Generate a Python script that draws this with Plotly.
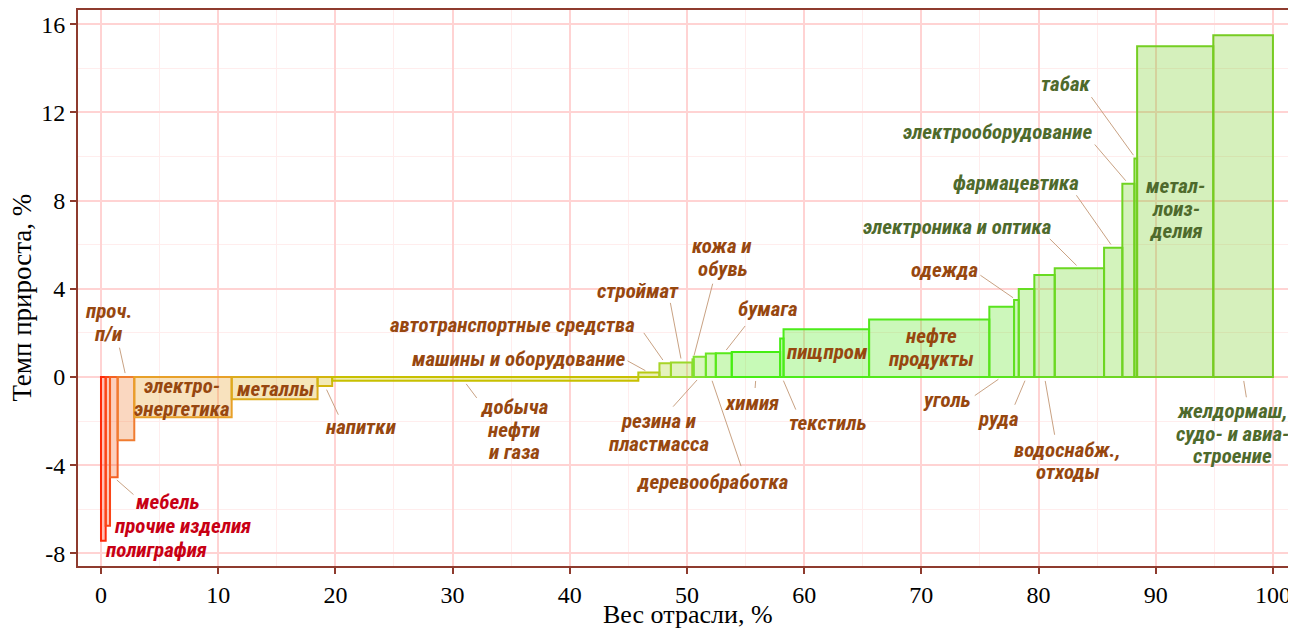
import subprocess
import numpy as np
import plotly.graph_objects as go
from plotly.colors import sample_colorscale

# ---------------- data ----------------
industries = ["полиграфия", "прочие изделия", "мебель", "проч. п/и", "электроэнергетика",
              "металлы", "напитки", "добыча нефти и газа", "машины и оборудование",
              "автотранспортные средства", "строймат", "кожа и обувь", "резина и пластмасса",
              "деревообработка", "бумага", "химия", "текстиль", "пищпром", "нефтепродукты",
              "уголь", "одежда", "руда", "водоснабж., отходы", "электроника и оптика",
              "фармацевтика", "электрооборудование", "табак", "металлоизделия",
              "желдормаш, судо- и авиастроение"]
weights = [0.40, 0.37, 0.65, 1.42, 8.31, 7.33, 1.25, 26.12, 1.80, 0.98, 1.84, 0.10, 1.04,
           0.85, 1.36, 4.13, 0.29, 7.30, 10.26, 2.11, 0.40, 1.33, 1.74, 4.21, 1.56, 1.03,
           0.23, 6.50, 5.09]
growth = [-7.42, -6.75, -4.55, -2.87, -1.83, -1.01, -0.41, -0.17, 0.20, 0.62, 0.66, 0.80,
          0.92, 1.07, 1.08, 1.13, 1.75, 2.17, 2.61, 3.19, 3.49, 3.99, 4.62, 4.93, 5.86,
          8.76, 9.91, 15.0, 15.5]

x_tickvals = [0, 10, 20, 30, 40, 50, 60, 70, 80, 90, 100]
x_ticktext = ["0", "10", "20", "30", "40", "50", "60", "70", "80", "90", "100"]
y_tickvals = [-8, -4, 0, 4, 8, 12, 16]
y_ticktext = ["-8", "-4", "0", "4", "8", "12", "16"]
x_title = "Вес отрасли, %"
y_title = "Темп прироста, %"

# ---------------- fonts ----------------
def available_families():
    try:
        out = subprocess.run(["fc-list", ":", "family"], capture_output=True,
                             text=True, timeout=20).stdout
    except Exception:
        return set()
    fams = set()
    for line in out.splitlines():
        for f in line.split(","):
            fams.add(f.strip())
    return fams


fams = available_families()
if "Liberation Sans Narrow" in fams:
    LABEL_FONT, LABEL_SIZE = "Liberation Sans Narrow", 21
elif "Roboto Condensed" in fams:
    LABEL_FONT, LABEL_SIZE = "Roboto Condensed", 21
else:
    LABEL_FONT, LABEL_SIZE = "Liberation Sans, Arial, sans-serif", 17

SERIF = "Liberation Serif, Times New Roman, serif"

# ---------------- styles ----------------
w = np.array(weights)
left = np.concatenate([[0], np.cumsum(w)[:-1]])
centers = left + w / 2
n = len(weights)

cscale = [[0.0, "#ff2a0a"], [3/28, "#f07c30"], [4/28, "#e8a028"], [7/28, "#c8c000"],
          [9/28, "#a8d428"], [12/28, "#80e030"], [15/28, "#44ee11"], [17/28, "#4cec1a"],
          [21/28, "#66dd22"], [1.0, "#77cc22"]]
line_cols = sample_colorscale(cscale, [i / (n - 1) for i in range(n)], colortype="rgb")


def with_alpha(c, a):
    return c.replace("rgb(", "rgba(").replace(")", f", {a})")


fill_cols = [with_alpha(c, 0.30) for c in line_cols]

RED, BROWN, GREEN = "#c80014", "#97470f", "#4e6a2c"
LEADER = "#c9a283"

fig = go.Figure()
fig.add_trace(go.Bar(
    x=centers, y=growth, width=w,
    marker=dict(color=fill_cols, line=dict(color=line_cols, width=2)),
    hovertext=industries, showlegend=False,
))

# label layout: (industry, lines, text centre x, y, leader tail x, y, anchor, frac, colour)
labels = [
    ("проч. п/и", ["проч.", "п/и"], 0.68, 2.47, 1.54, 1.42, "base", 0.5, BROWN),
    ("электроэнергетика", ["электро-", "энергетика"], 6.95, -0.92, None, None, None, 0.5, BROWN),
    ("металлы", ["металлы"], 14.85, -0.56, None, None, None, 0.5, BROWN),
    ("напитки", ["напитки"], 22.17, -2.28, 20.33, -1.80, "top", 0.5, BROWN),
    ("добыча нефти и газа", ["добыча", "нефти", "и газа"], 35.24, -2.39, 32.19, -1.04, "top", 0.43, BROWN),
    ("машины и оборудование", ["машины и оборудование"], 35.67, 0.82, 44.80, 0.77, "top", 0.5, BROWN),
    ("автотранспортные средства", ["автотранспортные средства"], 35.07, 2.36, 46.20, 2.09, "top", 0.5, BROWN),
    ("строймат", ["строймат"], 45.78, 3.91, 48.55, 3.45, "top", 0.5, BROWN),
    ("кожа и обувь", ["кожа и", "обувь"], 52.99, 5.41, 52.24, 4.32, "top", 0.5, BROWN),
    ("бумага", ["бумага"], 56.94, 3.08, 55.09, 2.40, "top", 0.5, BROWN),
    ("резина и пластмасса", ["резина и", "пластмасса"], 47.61, -2.52, 48.69, -1.42, "base", 0.5, BROWN),
    ("деревообработка", ["деревообработка"], 52.11, -4.77, 54.67, -4.13, "base", 0.5, BROWN),
    ("химия", ["химия"], 55.59, -1.19, 55.80, -0.59, "base", 0.5, BROWN),
    ("текстиль", ["текстиль"], 61.99, -2.07, 59.36, -1.57, "base", 0.5, BROWN),
    ("пищпром", ["пищпром"], 61.96, 1.12, None, None, None, 0.5, BROWN),
    ("нефтепродукты", ["нефте", "продукты"], 70.82, 1.33, None, None, None, 0.5, BROWN),
    ("уголь", ["уголь"], 72.18, -1.04, 74.43, -0.89, "base", 0.5, BROWN),
    ("одежда", ["одежда"], 71.97, 4.85, 74.91, 4.66, "top", 0.5, BROWN),
    ("руда", ["руда"], 76.62, -1.92, 77.90, -1.35, "base", 0.5, BROWN),
    ("водоснабж., отходы", ["водоснабж.,", "отходы"], 82.51, -3.81, 81.40, -2.71, "base", 0.5, BROWN),
    ("электроника и оптика", ["электроника и оптика"], 73.01, 6.79, 80.83, 6.33, "top", 0.5, GREEN),
    ("фармацевтика", ["фармацевтика"], 78.11, 8.79, 83.11, 8.33, "top", 0.5, GREEN),
    ("электрооборудование", ["электрооборудование"], 76.49, 11.11, 84.67, 10.62, "top", 0.5, GREEN),
    ("табак", ["табак"], 82.30, 13.28, 84.39, 12.78, "top", 0.5, GREEN),
    ("металлоизделия", ["метал-", "лоиз-", "делия"], 91.72, 7.62, None, None, None, 0.5, GREEN),
    ("желдормаш, судо- и авиастроение", ["желдормаш,", "судо- и авиа-", "строение"], 96.59, -2.58, 97.76, -1.01, "base", 0.5, GREEN),
    ("мебель", ["мебель"], 5.70, -5.65, 2.90, -5.39, "top", 0.5, RED),
    ("прочие изделия", ["прочие изделия"], 6.98, -6.75, None, None, None, 0.5, RED),
    ("полиграфия", ["полиграфия"], 4.68, -7.84, None, None, None, 0.5, RED),
]

LINE_STEP = 22.5
annotations = []
for name, lines, tx, ty, lx, ly, anchor, frac, col in labels:
    k = industries.index(name)
    if lx is not None:
        axx = left[k] + frac * w[k]
        axy = growth[k] if anchor == "top" else 0.0
        annotations.append(dict(
            x=axx, y=axy, xref="x", yref="y", ax=lx, ay=ly, axref="x", ayref="y",
            text=" ", font=dict(size=1), showarrow=True, arrowhead=0, arrowwidth=1,
            arrowcolor=LEADER, standoff=4))
    m = len(lines)
    for i, t in enumerate(lines):
        annotations.append(dict(
            x=tx, y=ty, xref="x", yref="y", text=t, showarrow=False,
            yshift=((m - 1) / 2 - i) * LINE_STEP, xanchor="center", yanchor="middle",
            font=dict(family=LABEL_FONT, size=LABEL_SIZE, color=col,
                      weight="bold", style="italic")))

# axis titles
annotations.append(dict(
    text=x_title, x=50.1, xref="x", y=0, yref="paper", yshift=-48,
    xanchor="center", yanchor="middle", showarrow=False,
    font=dict(family=SERIF, size=26, color="black")))
annotations.append(dict(
    text=y_title, x=0, xref="paper", xshift=-56, y=3.6, yref="y",
    xanchor="center", yanchor="middle", showarrow=False, textangle=-90,
    font=dict(family=SERIF, size=27, color="black")))

AX = "#8e3b2e"
fig.update_layout(
    width=1296, height=628,
    margin=dict(l=70, r=0, t=2, b=70, autoexpand=False),
    plot_bgcolor="white", paper_bgcolor="white",
    barmode="overlay",
    annotations=annotations,
    xaxis=dict(
        range=[-1.962, 102.65], tickvals=x_tickvals, ticktext=x_ticktext,
        automargin=False,
        showgrid=True, gridcolor="#ffd3d3", gridwidth=1.5, zeroline=False,
        minor=dict(dtick=5, tick0=0, showgrid=True, gridcolor="#ffeded", gridwidth=1),
        showline=True, linecolor=AX, linewidth=2, mirror=True,
        ticks="outside", ticklen=6, tickwidth=1.5, tickcolor=AX, ticklabelstandoff=0,
        tickfont=dict(family=SERIF, size=24, color="black"),
    ),
    yaxis=dict(
        range=[-8.57, 16.64], tickvals=y_tickvals, ticktext=y_ticktext,
        automargin=False,
        showgrid=True, gridcolor="#ffd3d3", gridwidth=1.5, zeroline=False,
        minor=dict(dtick=2, tick0=0, showgrid=True, gridcolor="#ffeded", gridwidth=1),
        showline=True, linecolor=AX, linewidth=2,
        ticks="outside", ticklen=6, tickwidth=1.5, tickcolor=AX,
        tickfont=dict(family=SERIF, size=24, color="black"),
    ),
)

fig.write_html("out.html")
